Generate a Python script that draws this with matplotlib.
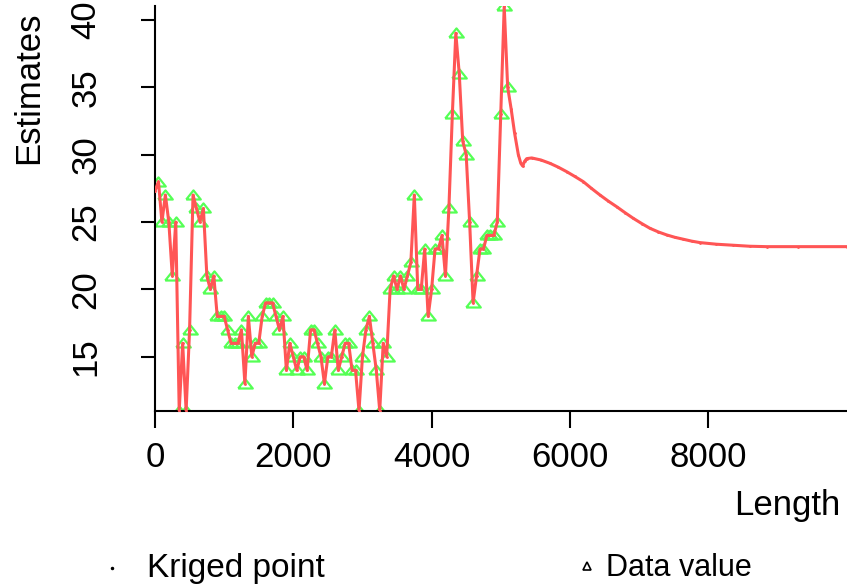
import matplotlib
matplotlib.use("Agg")
import matplotlib.pyplot as plt
from matplotlib.lines import Line2D

# --- DATA ---
# sample positions along the line (Length) and measured values
data_x = [
    50, 100, 150, 200, 250, 300, 350, 400, 450, 500, 550, 600, 650, 700, 750,
    800, 850, 900, 950, 1000, 1050, 1100, 1150, 1200, 1250, 1300, 1350, 1400,
    1450, 1500, 1550, 1600, 1650, 1700, 1750, 1800, 1850, 1900, 1950, 2000,
    2050, 2100, 2150, 2200, 2250, 2300, 2350, 2400, 2450, 2500, 2550, 2600,
    2650, 2700, 2750, 2800, 2850, 2900, 2950, 3000, 3050, 3100, 3150, 3200,
    3250, 3300, 3350, 3400, 3450, 3500, 3550, 3600, 3650, 3700, 3750, 3800,
    3850, 3900, 3950, 4000, 4050, 4100, 4150, 4200, 4250, 4300, 4350, 4400,
    4450, 4500, 4550, 4600, 4650, 4700, 4750, 4800, 4850, 4900, 4950, 5000,
    5050, 5100,
]
data_vals = [
    28, 25, 27, 25, 21, 25, 11, 16, 11, 17, 27, 26, 25, 26, 21, 20, 21, 18,
    18, 18, 17, 16, 16, 16, 17, 13, 18,
    15, 16, 16, 18, 19, 19, 19, 18, 17, 18, 14, 16, 15, 14,
    15, 15, 14, 17, 17, 16, 15, 13, 15, 15, 17, 14, 15, 16, 16, 14, 14, 11,
    15, 17, 18, 16, 14, 11, 16, 15, 20,
    21, 20, 21, 20, 21, 22, 27, 20, 20, 23, 18, 20, 23, 23, 24, 21, 26,
    33, 39, 36, 31, 30, 25, 19, 21, 23, 23, 24, 24, 24, 25, 33, 41, 35,
]

# kriged estimate before the first sample and beyond the last one
head_x = [0]
head_vals = [27.3]
tail_x = [5150, 5200, 5254, 5290, 5317, 5345, 5375, 5448, 5580, 5712, 5830,
          5954, 6070, 6194, 6310, 6435, 6555, 6677, 6800, 6917, 7040, 7158,
          7280, 7400, 7520, 7640, 7760, 7881, 8120, 8363, 8600, 8846, 9300,
          10000]
tail_vals = [33.4, 31.6, 30.0, 29.35, 29.15, 29.5, 29.7, 29.75, 29.6, 29.35,
             29.07, 28.73, 28.38, 27.99, 27.5, 27.0, 26.55, 26.13, 25.68,
             25.27, 24.88, 24.53, 24.26, 24.04, 23.86, 23.72, 23.58, 23.47,
             23.35, 23.27, 23.2, 23.17, 23.17, 23.17]

y_ticks = [15, 20, 25, 30, 35, 40]
x_ticks = [0, 2000, 4000, 6000, 8000]

# --- STYLE ---
W, H = 847, 584
red = "#ff5555"
green = "#55ff55"
fs = 25
plt.rcParams["font.family"] = ["Liberation Sans", "DejaVu Sans"]

fig = plt.figure(figsize=(W / 100, H / 100), dpi=100)
ax = fig.add_axes([155 / W, 1 - 410.7 / H, 691.5 / W, 404.4 / H])

# wide, flat triangle for the data values
tri = [(-1, -0.55), (1, -0.55), (0, 0.7), (-1, -0.55)]
ax.plot(data_x, data_vals, ls="none", marker=tri, ms=10.5, mfc="none",
        mec=green, mew=1.6, zorder=2)

krig_x = head_x + data_x + tail_x
krig_vals = head_vals + data_vals + tail_vals
ax.plot(krig_x, krig_vals, color=red, lw=2.2, marker=".", ms=2, zorder=3)

ax.set_xlim(0, 10000)
ax.set_ylim(11, 41)
ax.set_xticks(x_ticks)
ax.set_xticklabels([str(t) for t in x_ticks], fontsize=fs)
ax.set_yticks(y_ticks)
ax.set_yticklabels([str(t) for t in y_ticks], fontsize=fs, rotation=90,
                   va="center")

for s in ["top", "right"]:
    ax.spines[s].set_visible(False)
for s in ["left", "bottom"]:
    ax.spines[s].set_linewidth(1.5)
ax.tick_params(axis="x", length=12, width=1.5, pad=10, direction="out")
ax.tick_params(axis="y", length=10, width=1.5, pad=28, direction="out")

# --- AXIS TITLES ---
fig.text(29 / W, 1 - 88 / H, "Estimates", rotation=90, ha="center",
         va="center", fontsize=fs)
fig.text(840 / W, 1 - 505 / H, "Length", ha="right", va="center", fontsize=fs)

# --- LEGEND ---
fig.add_artist(Line2D([112 / W], [1 - 568 / H], marker=".", color="black",
                      ms=3, ls="none", transform=fig.transFigure))
fig.text(147 / W, 1 - 568 / H, "Kriged point", ha="left", va="center",
         fontsize=fs - 1)
fig.add_artist(Line2D([587 / W], [1 - 566 / H], marker="^", mfc="none",
                      mec="black", mew=1.2, ms=6, ls="none",
                      transform=fig.transFigure))
fig.text(606 / W, 1 - 568 / H, "Data value", ha="left", va="center",
         fontsize=fs - 3)

fig.savefig("out.png", dpi=100)
plt.close(fig)
